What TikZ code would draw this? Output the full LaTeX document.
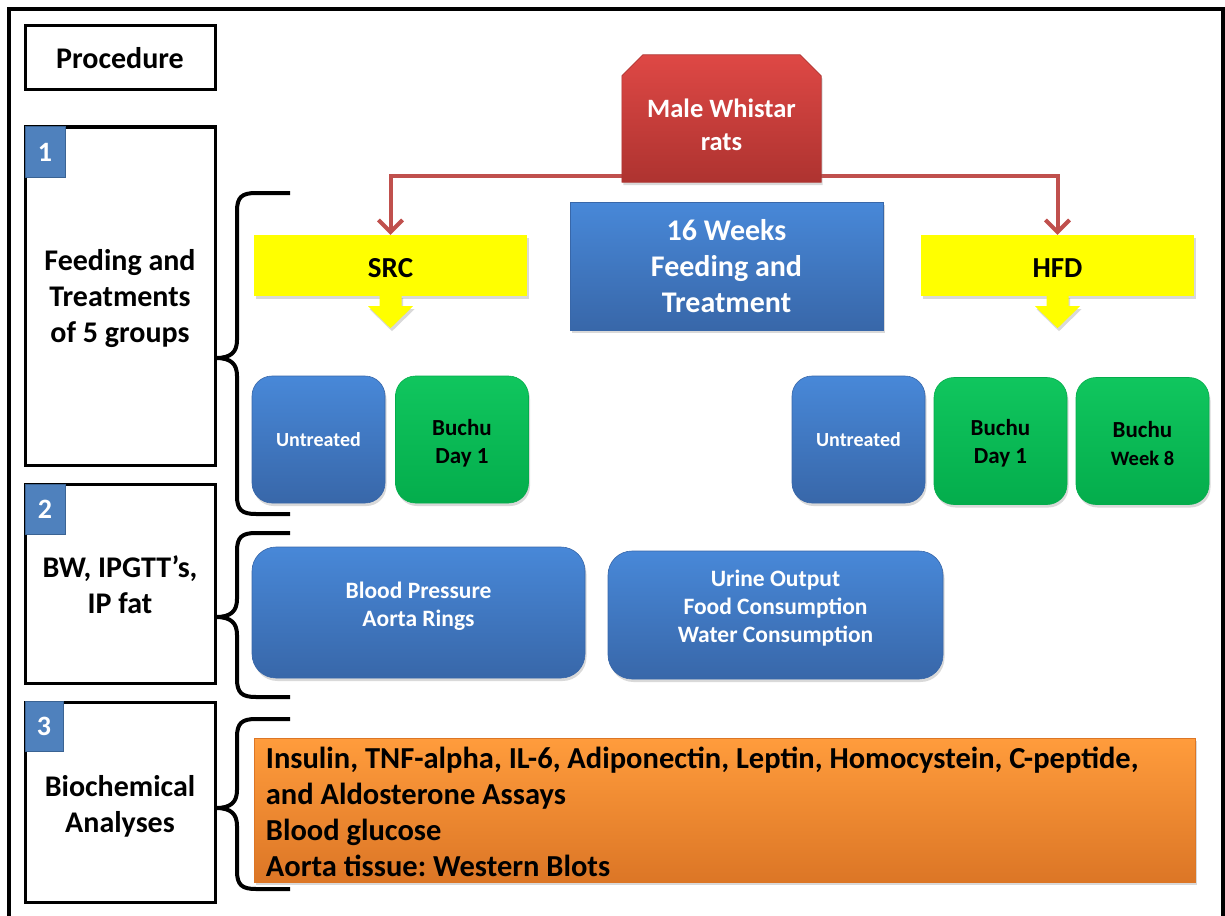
\documentclass[tikz,border=0pt]{standalone}
\usepackage{fontspec}
\setmainfont{Carlito}
\usetikzlibrary{arrows.meta,shadows,backgrounds,calc}
\definecolor{bluetop}{HTML}{4888D8}
\definecolor{bluebot}{HTML}{3867A9}
\definecolor{greentop}{HTML}{10C65E}
\definecolor{greenbot}{HTML}{04AD4C}
\definecolor{redtop}{HTML}{DE4845}
\definecolor{redbot}{HTML}{AE3330}
\definecolor{orangetop}{HTML}{FF9C3C}
\definecolor{orangebot}{HTML}{DC7626}
\definecolor{yel}{HTML}{FFFF00}
\definecolor{badgeblue}{HTML}{4F81BD}
\definecolor{badgeedge}{HTML}{3A6393}
\definecolor{linered}{HTML}{C0504D}
\frenchspacing
\newcommand{\myfs}[2]{\fontsize{#1}{#2}\selectfont}
\newcommand{\shifttext}[3]{\parbox{#1}{\vspace*{#2}\centering #3}}
\newcommand{\drawbrace}[3]{%
  \draw[bracestyle] (290,#1) -- (256,#1) .. controls (242,#1) and (237,#1+4) .. (237,#1+18)
    -- (237,#2-18) .. controls (237,#2-6) and (231,#2) .. (216,#2)
    .. controls (231,#2) and (237,#2+6) .. (237,#2+18)
    -- (237,#3-18) .. controls (237,#3-4) and (242,#3) .. (256,#3) -- (290,#3);}
\begin{document}
\begin{tikzpicture}[x=1pt,y=-1pt,
  every node/.style={font=\bfseries, inner sep=0pt},
  shad/.style={drop shadow={shadow xshift=1.5pt, shadow yshift=-3pt, opacity=0.3}},
  labelbox/.style={draw=black, line width=3pt, fill=white, minimum width=190pt, align=center, font=\bfseries\myfs{30}{36}},
  badge/.style={draw=badgeedge, line width=1pt, fill=badgeblue, text=white, minimum width=40pt, minimum height=50pt, font=\bfseries\myfs{28}{30}},
  bluebox/.style={shad, top color=bluetop, bottom color=bluebot, draw=bluebot, line width=0.6pt},
  greenbox/.style={shad, top color=greentop, bottom color=greenbot, draw=greenbot, line width=0.6pt},
  groupbox/.style={rounded corners=20pt, minimum width=133pt, minimum height=127pt, align=center},
  yelbox/.style={shad, fill=yel, minimum width=273pt, minimum height=61pt, font=\bfseries\myfs{29}{34}},
  whitetxt/.style={text=white, align=center},
  redarrow/.style={draw=linered, line width=4pt, -{Straight Barb[length=12pt,width=24pt,line width=4pt]}},
  bracestyle/.style={draw=black, line width=4pt},
  frameline/.style={draw=black, line width=3.5pt}
]
\useasboundingbox (0,0) rectangle (1225,915);
% outer frame
\draw[frameline] (9,940) -- (9,9) -- (1223,9) -- (1223,940);

% left label boxes
\node[labelbox, minimum height=64pt] (proc) at (120,58) {Procedure};
\node[labelbox, minimum height=338pt] (step1) at (120,296) {\shifttext{186pt}{6pt}{Feeding and\\Treatments\\of 5 groups}};
\node[labelbox, minimum height=199pt] (step2) at (120,583.5) {\shifttext{186pt}{2pt}{BW, IPGTT’s,\\IP fat}};
\node[labelbox, minimum height=200pt] (step3) at (120,802) {\shifttext{186pt}{8pt}{Biochemical\\Analyses}};
\node[badge] (b1) at (45,152) {1};
\node[badge] (b2) at (45,509) {2};
\node[badge, minimum width=38pt] (b3) at (44,726) {3};

% braces
\drawbrace{193}{358}{514}
\drawbrace{533}{617}{697}
\drawbrace{719}{808}{889}

% top: red source node (chamfered top corners)
\node[minimum width=199pt, minimum height=127pt] (rats) at (721.5,118.5) {};
\path[shad, top color=redtop, bottom color=redbot, draw=redbot, line width=0.6pt]
  (rats.south west) -- ([yshift=-21pt]rats.north west) -- ([xshift=21pt]rats.north west)
  -- ([xshift=-21pt]rats.north east) -- ([yshift=-21pt]rats.north east) -- (rats.south east) -- cycle;
\node[whitetxt, font=\bfseries\myfs{26.5}{33}] (ratstxt) at ([yshift=-6pt]rats.center) {Male Whistar\\rats};

% yellow diets
\node[yelbox] (src) at (390.5,265.5) {\shifttext{120pt}{6pt}{SRC}};
\node[yelbox] (hfd) at (1057.5,265.5) {\shifttext{120pt}{6pt}{HFD}};
\fill[yel, shad] ($(src.south)+(-11,-1)$) -- ++(22,0) -- ++(0,11) -- ++(11.5,0) -- ($(src.south)+(0,32)$) -- ($(src.south)+(-22.5,10)$) -- ++(11.5,0) -- cycle;
\fill[yel, shad] ($(hfd.south)+(-11,-1)$) -- ++(22,0) -- ++(0,11) -- ++(11.5,0) -- ($(hfd.south)+(0,32)$) -- ($(hfd.south)+(-22.5,10)$) -- ++(11.5,0) -- cycle;

% red connectors behind the source node
\coordinate (split) at (721.5,176);
\begin{pgfonlayer}{background}
  \draw[redarrow] (split) -| (src.north);
  \draw[redarrow] (split) -| (hfd.north);
\end{pgfonlayer}

% centre box
\node[bluebox, minimum width=313pt, minimum height=128pt, whitetxt, font=\bfseries\myfs{30}{36}] (weeks) at (726.5,266) {16 Weeks\\Feeding and\\Treatment};

% groups
\node[bluebox, groupbox, whitetxt, font=\bfseries\myfs{20}{24}] (srcu) at (318.5,439.5) {Untreated};
\node[greenbox, groupbox, font=\bfseries\myfs{23}{28}] (srcb) at (462,439.5) {\shifttext{120pt}{8pt}{Buchu\\Day 1}};
\node[bluebox, groupbox, whitetxt, font=\bfseries\myfs{20}{24}] (hfdu) at (858.5,439.5) {Untreated};
\node[greenbox, groupbox, font=\bfseries\myfs{23}{28}] (hfdb) at (1000.5,441) {\shifttext{120pt}{4pt}{Buchu\\Day 1}};
\node[greenbox, groupbox, font=\bfseries\myfs{23}{28}] (hfdw) at (1142.5,441) {\shifttext{120pt}{5pt}{Buchu\\{\myfs{20.5}{28}Week 8}}};

% measurements
\node[bluebox, rounded corners=24pt, minimum width=333pt, minimum height=131pt] (bp) at (418.5,612.5) {};
\node[whitetxt, font=\bfseries\myfs{23.5}{28}] (bptxt) at ([yshift=6pt]bp.center) {Blood Pressure\\Aorta Rings};
\node[bluebox, rounded corners=24pt, minimum width=335pt, minimum height=128pt] (urine) at (775.5,615) {};
\node[whitetxt, font=\bfseries\myfs{23.5}{28}] (urinetxt) at ([yshift=7pt]urine.center) {Urine Output\\Food Consumption\\Water Consumption};

% biochemical analyses
\node[shad, top color=orangetop, bottom color=orangebot, draw=orangebot, line width=0.6pt, minimum width=941pt, minimum height=144pt] (bio) at (724.5,810) {};
\node[anchor=west, align=left, font=\bfseries\myfs{30.5}{36}] (biotxt) at ([xshift=12pt,yshift=-2pt]bio.west) {Insulin, TNF-alpha, IL-6, Adiponectin, Leptin, Homocystein, C-peptide,\\and Aldosterone Assays\\Blood glucose\\Aorta tissue: Western Blots};
\end{tikzpicture}
\end{document}
